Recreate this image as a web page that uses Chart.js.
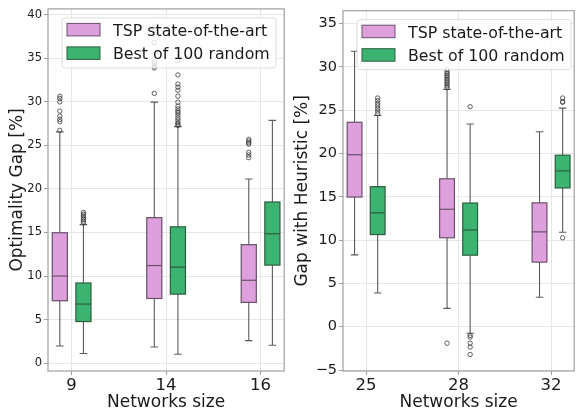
<!DOCTYPE html>
<html>
<head>
<meta charset="utf-8">
<script src="https://cdn.jsdelivr.net/npm/chart.js@4/dist/chart.umd.min.js"></script>
<style>
  body { margin: 0; background: #fff; }
  #wrap { position: relative; width: 579px; height: 418px; }
  #left { position: absolute; left: 0; top: 0; }
  #right { position: absolute; left: 289px; top: 0; }
</style>
</head>
<body>
<div id="wrap">
  <canvas id="left" width="289" height="418"></canvas>
  <canvas id="right" width="290" height="418"></canvas>
</div>
<script>
'use strict'

// left panel: optimality gap
const sizesA = ['9', '14', '16'];
const tspA_lo = [1.97, 1.85, 2.58];
const tspA_q1 = [7.16, 7.42, 6.97];
const tspA_med = [10.0, 11.2, 9.51];
const tspA_q3 = [14.97, 16.7, 13.6];
const tspA_hi = [26.55, 29.97, 21.14];
const tspA_out = [
    [26.74, 27.73, 27.99, 28.37, 28.94, 30.0, 30.4, 30.65],
    [30.98, 33.9, 34.1, 34.4, 34.6, 36.8, 37.8, 38.3, 38.7],
    [23.6, 23.9, 24.2, 25.15, 25.3, 25.5, 25.7]
];
const randA_lo = [1.1, 1.02, 2.05];
const randA_q1 = [4.77, 7.92, 11.25];
const randA_med = [6.78, 11.02, 14.85];
const randA_q3 = [9.2, 15.65, 18.5];
const randA_hi = [15.9, 27.16, 27.88];
const randA_out = [
    [16.1, 16.3, 16.5, 16.7, 16.9, 17.1, 17.3],
    [27.3, 27.45, 27.61, 27.92, 28.18, 28.49, 28.75, 28.94, 29.2, 29.5, 29.97, 30.65, 31.33, 31.7, 32.05, 33.1, 34.74],
    []
];

// right panel: gap with heuristic
const sizesB = ['25', '28', '32'];
const tspB_lo = [8.3, 2.12, 3.4];
const tspB_q1 = [14.97, 10.27, 7.46];
const tspB_med = [19.85, 13.56, 10.95];
const tspB_q3 = [23.6, 17.08, 14.3];
const tspB_hi = [31.8, 27.4, 22.5];
const tspB_out = [
    [],
    [-1.9, 27.6, 27.8, 28.0, 28.2, 28.4, 28.6, 28.8, 29.0, 29.2, 29.4, 29.66],
    []
];
const randB_lo = [3.9, -0.76, 10.9];
const randB_q1 = [10.64, 8.26, 16.02];
const randB_med = [13.15, 11.17, 17.99];
const randB_q3 = [16.17, 14.28, 19.8];
const randB_hi = [24.4, 23.4, 25.23];
const randB_out = [
    [24.6, 24.9, 25.2, 25.5, 25.8, 26.1, 26.4],
    [-3.2, -2.35, -1.9, -1.2, -1.0, 25.4],
    [10.27, 25.9, 26.0, 26.4]
];

const seriesNames = ['TSP state-of-the-art', 'Best of 100 random'];
const fills = ['#dda0dd', '#3cb371'];
const edges = ['#6a506a', '#2d5e3e'];
const whiskerColor = '#5a5a5a';
const font = 'DejaVu Sans';
const offs = [-0.125, 0.125];
const halfW = 0.08;
const capW = 0.04;

function makeChart(id, sizes, series, yMin, yMax, yTitle, opt) {
    let datasets = [];
    series.forEach(function (s, k) {
        let pts = [];
        for (let i = 0; i < s.out.length; i++) {
            for (let j = 0; j < s.out[i].length; j++) {
                pts.push({ x: i + offs[k], y: s.out[i][j] });
            }
        }
        datasets.push({
            label: seriesNames[k],
            data: pts,
            pointRadius: 2.2,
            pointBorderWidth: 0.8,
            pointBorderColor: '#3a3a3a',
            pointBackgroundColor: 'rgba(0,0,0,0)',
            showLine: false
        });
    });

    const boxPlugin = {
        id: 'boxes_' + id,
        beforeDatasetsDraw(chart) {
            const ctx = chart.ctx;
            const x = chart.scales.x;
            const y = chart.scales.y;
            ctx.save();
            series.forEach(function (s, k) {
                for (let i = 0; i < s.q1.length; i++) {
                    const c = i + offs[k];
                    const xl = x.getPixelForValue(c - halfW);
                    const xr = x.getPixelForValue(c + halfW);
                    const xc = x.getPixelForValue(c);
                    const cl = x.getPixelForValue(c - capW);
                    const cr = x.getPixelForValue(c + capW);
                    const pq1 = y.getPixelForValue(s.q1[i]);
                    const pq3 = y.getPixelForValue(s.q3[i]);
                    const pm = y.getPixelForValue(s.med[i]);
                    const plo = y.getPixelForValue(s.lo[i]);
                    const phi = y.getPixelForValue(s.hi[i]);
                    // whiskers
                    ctx.strokeStyle = whiskerColor;
                    ctx.lineWidth = 1.1;
                    ctx.beginPath();
                    ctx.moveTo(xc, pq3); ctx.lineTo(xc, phi);
                    ctx.moveTo(xc, pq1); ctx.lineTo(xc, plo);
                    ctx.moveTo(cl, phi); ctx.lineTo(cr, phi);
                    ctx.moveTo(cl, plo); ctx.lineTo(cr, plo);
                    ctx.stroke();
                    // box
                    ctx.fillStyle = fills[k];
                    ctx.fillRect(xl, pq3, xr - xl, pq1 - pq3);
                    ctx.strokeStyle = edges[k];
                    ctx.lineWidth = 1.2;
                    ctx.strokeRect(xl, pq3, xr - xl, pq1 - pq3);
                    // median
                    ctx.beginPath();
                    ctx.moveTo(xl, pm); ctx.lineTo(xr, pm);
                    ctx.stroke();
                }
            });
            ctx.restore();
        },
        afterDatasetsDraw(chart) {
            const ctx = chart.ctx;
            const a = chart.chartArea;
            ctx.save();
            // frame
            ctx.strokeStyle = '#a0a0a0';
            ctx.lineWidth = 1.2;
            ctx.strokeRect(a.left, a.top, a.right - a.left, a.bottom - a.top);
            // legend
            const lx = a.left + 14, ly = a.top + 9, lw = 214, lh = 50;
            ctx.fillStyle = 'rgba(255,255,255,0.8)';
            ctx.strokeStyle = '#dcdcdc';
            ctx.lineWidth = 1;
            ctx.beginPath();
            ctx.roundRect(lx, ly, lw, lh, 3);
            ctx.fill();
            ctx.stroke();
            ctx.font = '15.8px "' + font + '"';
            ctx.textBaseline = 'alphabetic';
            ctx.textAlign = 'left';
            for (let k = 0; k < 2; k++) {
                const py = ly + 5.5 + k * 23.5;
                ctx.fillStyle = fills[k];
                ctx.fillRect(lx + 5, py, 33, 12.5);
                ctx.strokeStyle = edges[k];
                ctx.lineWidth = 1;
                ctx.strokeRect(lx + 5, py, 33, 12.5);
                ctx.fillStyle = '#1a1a1a';
                ctx.fillText(seriesNames[k], lx + 51, py + 12.5);
            }
            ctx.restore();
        }
    };

    return new Chart(document.getElementById(id), {
        type: 'scatter',
        data: { datasets: datasets },
        plugins: [boxPlugin],
        options: {
            responsive: false,
            animation: false,
            layout: { padding: { top: 5, right: opt.padRight, left: 0, bottom: 0 } },
            plugins: { legend: { display: false }, tooltip: { enabled: false } },
            scales: {
                x: {
                    type: 'linear',
                    min: -0.25,
                    max: 2.25,
                    afterBuildTicks: function (ax) {
                        ax.ticks = [0, 1, 2].map(function (v) { return { value: v }; });
                    },
                    afterFit: function (ax) { ax.height = 47; },
                    ticks: {
                        autoSkip: false,
                        maxRotation: 0,
                        padding: 1,
                        color: '#1a1a1a',
                        font: { family: font, size: 16.5 },
                        callback: function (v) { return sizes[v]; }
                    },
                    grid: { color: '#e6e6e6', tickColor: '#a0a0a0', tickLength: 4 },
                    border: { display: false },
                    title: {
                        display: true,
                        text: 'Networks size',
                        color: '#1a1a1a',
                        font: { family: font, size: 17 },
                        padding: { top: 0, bottom: 5 }
                    }
                },
                y: {
                    min: yMin,
                    max: yMax,
                    afterBuildTicks: function (ax) {
                        let t = [];
                        for (let v = Math.ceil(yMin / 5) * 5; v <= yMax; v += 5) t.push({ value: v });
                        ax.ticks = t;
                    },
                    afterFit: function (ax) { ax.width = opt.yWidth; },
                    ticks: {
                        padding: 2,
                        color: '#1a1a1a',
                        font: { family: font, size: opt.yTickSize },
                        callback: function (v) { return v < 0 ? '\u2212' + Math.abs(v) : String(v); }
                    },
                    grid: { color: '#e6e6e6', tickColor: '#a0a0a0', tickLength: 4 },
                    border: { display: false },
                    title: {
                        display: true,
                        text: yTitle,
                        color: '#1a1a1a',
                        font: { family: font, size: 17 },
                        padding: { top: opt.titlePad, bottom: 0 }
                    }
                }
            }
        }
    });
}

makeChart('left', sizesA, [
    { lo: tspA_lo, q1: tspA_q1, med: tspA_med, q3: tspA_q3, hi: tspA_hi, out: tspA_out },
    { lo: randA_lo, q1: randA_q1, med: randA_med, q3: randA_q3, hi: randA_hi, out: randA_out }
], -0.91, 40.68, 'Optimality Gap [%]', { padRight: 4, yWidth: 48, yTickSize: 11.5, titlePad: 7 });

makeChart('right', sizesB, [
    { lo: tspB_lo, q1: tspB_q1, med: tspB_med, q3: tspB_q3, hi: tspB_hi, out: tspB_out },
    { lo: randB_lo, q1: randB_q1, med: randB_med, q3: randB_q3, hi: randB_hi, out: randB_out }
], -5.11, 36.48, 'Gap with Heuristic [%]', { padRight: 2, yWidth: 54, yTickSize: 14.5, titlePad: 3 });
</script>
</body>
</html>
